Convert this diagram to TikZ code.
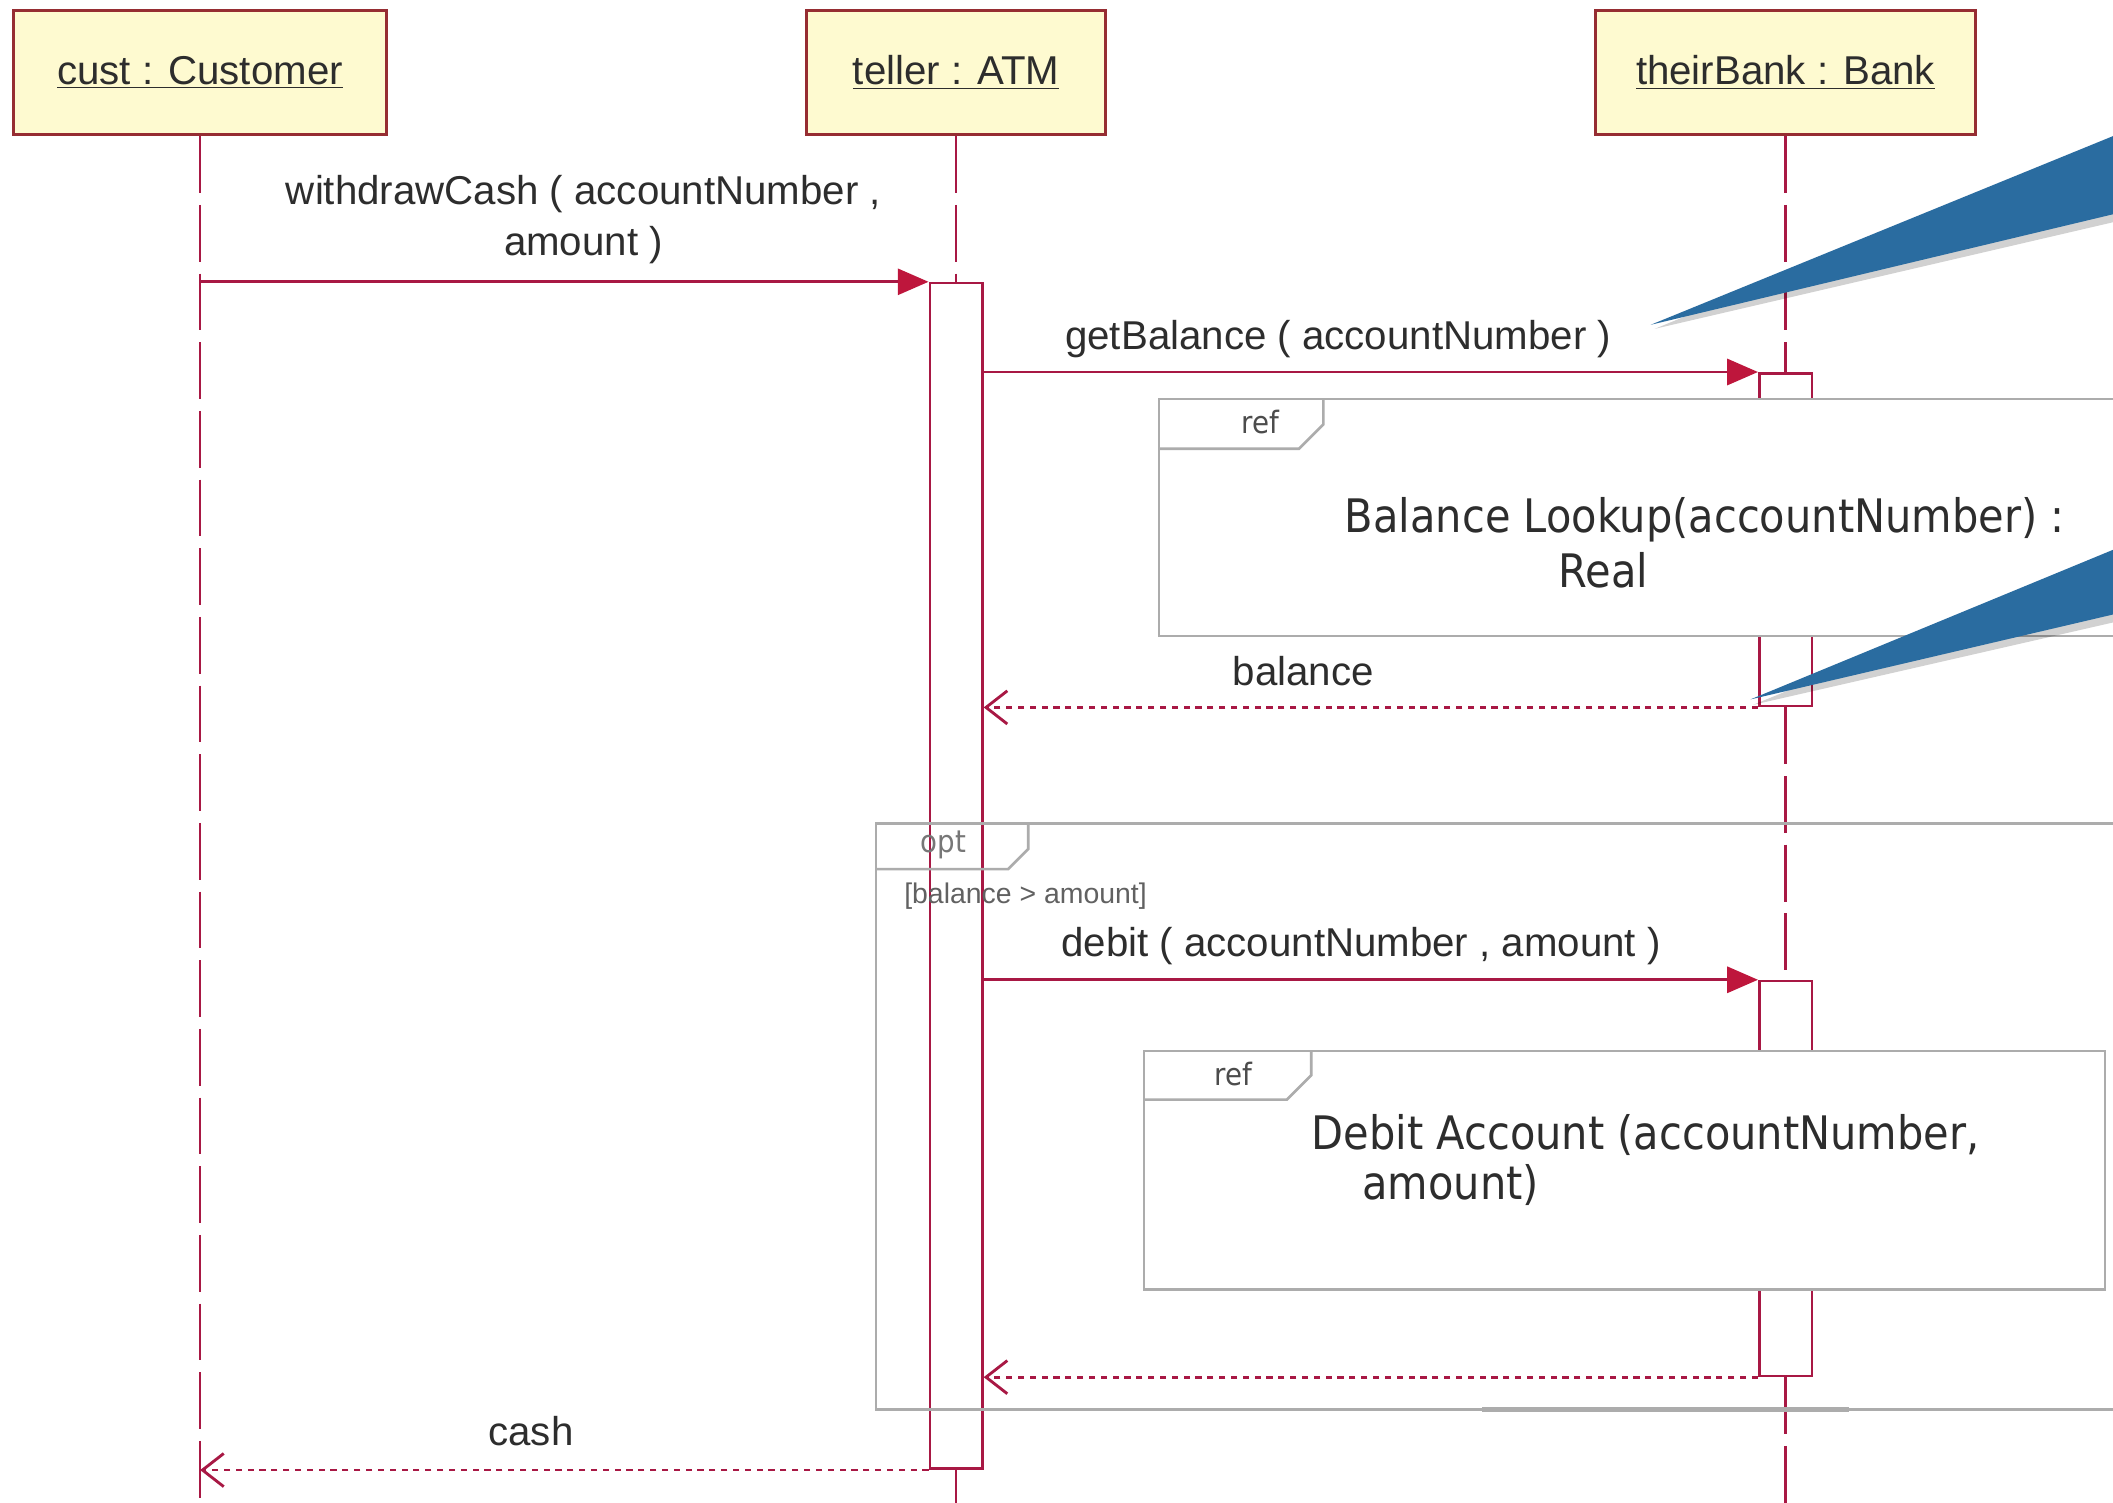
\documentclass[tikz,border=0pt]{standalone}
\usepackage{fontspec}
\setmainfont{Liberation Sans}
\newfontfamily\reffont[FakeStretch=0.9]{DejaVu Sans}
\usetikzlibrary{arrows.meta}
\definecolor{lifered}{RGB}{168,24,68}
\definecolor{headred}{RGB}{190,22,60}
\definecolor{boxfill}{RGB}{254,250,208}
\definecolor{boxline}{RGB}{150,45,50}
\definecolor{framegrey}{RGB}{172,172,172}
\definecolor{textgrey}{RGB}{45,45,45}
\definecolor{noteblue}{RGB}{42,108,160}
\tikzset{
  head/.style={draw=boxline, fill=boxfill, line width=1.3pt, minimum height=1.84cm, inner sep=0pt, text=textgrey, font=\fontsize{17}{20}\selectfont},
  lifeline/.style={draw=lifered, line width=1.1pt, dash pattern=on 24pt off 5pt},
  act/.style={draw=lifered, fill=white, line width=1.1pt, minimum width=0.78cm, inner sep=0pt},
  call/.style={draw=lifered, line width=1.2pt, -{Triangle[length=13pt,width=11pt,fill=headred,color=headred]}},
  reply/.style={draw=lifered, line width=1.2pt, dash pattern=on 2.6pt off 2.4pt, -{Straight Barb[length=9pt,width=14pt]}},
  msg/.style={text=textgrey, font=\fontsize{17}{21.5}\selectfont, align=center, inner sep=0pt},
  frame/.style={draw=framegrey, line width=1.1pt},
  reftext/.style={text=textgrey, font=\reffont\fontsize{19.5}{21}\selectfont, inner sep=0pt},
  tabtext/.style={text=textgrey!85, font=\reffont\fontsize{13}{15}\selectfont, inner sep=0pt},
  guard/.style={text=textgrey!75, font=\fontsize{12}{14}\selectfont, inner sep=0pt},
}
\begin{document}
\begin{tikzpicture}[x=0.02cm, y=-0.02cm]
\useasboundingbox[fill=white] (0,0) rectangle (1568,1115);
\clip (0,0) rectangle (1568,1115);
% lifeline heads
\node[head, minimum width=5.54cm] (cust) at (148.5,54) {\underline{cust : Customer}};
\node[head, minimum width=4.44cm] (teller) at (709.5,54) {\underline{teller : ATM}};
\node[head, minimum width=5.64cm] (bank) at (1325,54) {\underline{theirBank : Bank}};
% activations
\node[act, minimum height=17.6cm] (tact) at (709.5,650) {};
\node[act, minimum height=4.94cm] (bact1) at (1325,400.5) {};
\node[act, minimum height=5.86cm] (bact2) at (1325,874.5) {};
% lifelines
\draw[lifeline] (cust.south) -- (cust.south |- 0,1115);
\draw[lifeline] (teller.south) -- (tact.north);
\draw[lifeline] (tact.south) -- (teller.south |- 0,1115);
\draw[lifeline] (bank.south) -- (bact1.north);
\draw[lifeline] (bact1.south) -- (bact2.north);
\draw[lifeline] (bact2.south) -- (bank.south |- 0,1115);
% messages
\node[msg] (wlabel) at (433,163) {withdrawCash ( accountNumber ,\\amount )};
\draw[call] (cust.south |- tact.north west) -- (tact.north west);
\node[msg] (glabel) at (993,252) {getBalance ( accountNumber )};
\draw[call] (tact.east |- bact1.north west) -- (bact1.north west);
% ref balance lookup
\fill[white] (860,296) rectangle (1600,472);
\draw[frame] (1600,296) -- (860,296) -- (860,472) -- (1600,472);
\draw[frame] (860,333) -- (964,333) -- (982,315) -- (982,296);
\node[tabtext] (ref1) at (935,313) {ref};
\node[reftext] (bl1) at (1265,386) {Balance Lookup(accountNumber) :};
\node[reftext] (bl2) at (1190,423) {Real};
\node[msg] (blabel) at (967,498) {balance};
\draw[reply] (bact1.south west) -- (tact.east |- bact1.south west);
% opt fragment
\draw[frame] (1600,611) -- (650,611) -- (650,1046) -- (1600,1046);
\draw[frame] (650,645) -- (748,645) -- (763,630) -- (763,611);
\draw[framegrey, line width=2pt] (1100,1046) -- (1372,1046);
\node[tabtext, text=textgrey!65] (opt) at (700,627) {opt};
\node[guard] (cond) at (761,665) {[balance > amount]};
\node[msg] (dlabel) at (1010,702) {debit ( accountNumber , amount )};
\draw[call] (tact.east |- bact2.north west) -- (bact2.north west);
% ref debit account
\fill[white] (849,780) rectangle (1562,957);
\draw[frame] (849,780) rectangle (1562,957);
\draw[frame] (849,816) -- (955,816) -- (973,798) -- (973,780);
\node[tabtext] (ref2) at (915,797) {ref};
\node[reftext, anchor=west, align=left] (da) at (973,861) {Debit Account (accountNumber,\\\hspace*{1.1em}amount)};
\draw[reply] (bact2.south west) -- (tact.east |- bact2.south west);
\node[msg] (clabel) at (394,1062) {cash};
\draw[reply] (tact.south west) -- (cust.south |- tact.south west);
% notes
\fill[black, opacity=0.18] (1228,244) -- (1572,103) -- (1572,164) -- cycle;
\fill[noteblue] (1225,241) -- (1568,101) -- (1568,159) -- cycle;
\fill[black, opacity=0.18] (1301,523) -- (1572,412) -- (1572,461) -- cycle;
\fill[noteblue] (1299,519) -- (1568,408) -- (1568,456) -- cycle;
\end{tikzpicture}
\end{document}
